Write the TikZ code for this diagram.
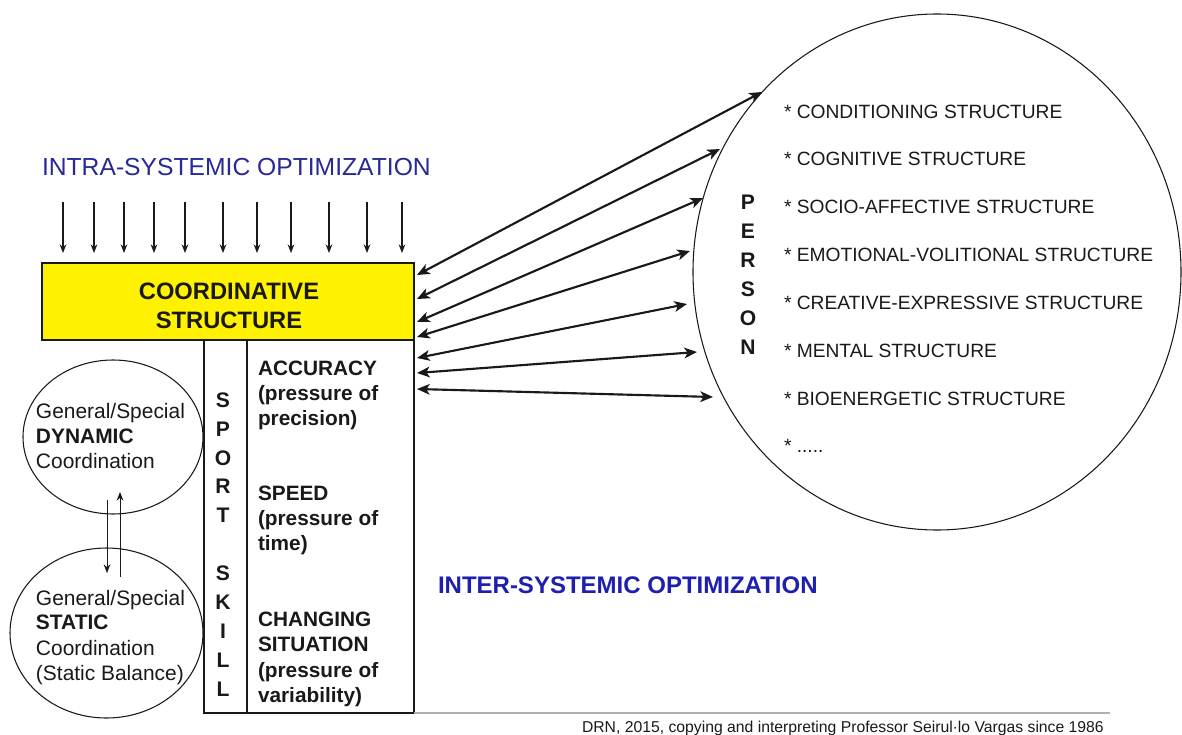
\documentclass[tikz,border=0pt]{standalone}
\usepackage{fontspec}
\setmainfont{Liberation Sans}
\usetikzlibrary{arrows.meta,shapes.geometric}
\definecolor{titleblue}{RGB}{40,40,150}
\definecolor{interblue}{RGB}{30,30,175}
\definecolor{ink}{RGB}{25,25,25}
\definecolor{rulegray}{RGB}{175,175,175}
\begin{document}
\begin{tikzpicture}[x=0.75pt,y=-0.75pt,
  every node/.style={inner sep=0pt, outer sep=0pt},
  txt/.style={anchor=base west, text=ink, font=\fontsize{15.7}{18}\selectfont},
  txtb/.style={anchor=base west, text=ink, font=\fontsize{15.6}{18}\selectfont\bfseries},
  item/.style={anchor=base west, text=ink, font=\fontsize{14.4}{17}\selectfont},
  letters/.style={align=center, text=ink, font=\fontsize{15.8}{21.7}\selectfont\bfseries},
  coordtxt/.style={anchor=base, text=ink, font=\fontsize{17.8}{21}\selectfont\bfseries},
  thinarrow/.style={-{Stealth[length=6.5pt,width=5pt]}, line width=0.8pt, draw=ink},
  dblarrow/.style={{Stealth[length=9.5pt,width=8pt,inset=2.5pt]}-{Stealth[length=9.5pt,width=8pt,inset=2.5pt]}, line width=1.6pt, draw=ink},
  outline/.style={draw=ink, line width=0.8pt},
  boxline/.style={draw=ink, line width=1pt},
]
\useasboundingbox (0,0) rectangle (1182,735);

% titles
\node[anchor=base west, text=titleblue, font=\fontsize{18.5}{22}\selectfont] (intra) at (42,175) {INTRA-SYSTEMIC OPTIMIZATION};
\node[anchor=base west, text=interblue, font=\fontsize{18}{22}\selectfont\bfseries] (inter) at (438,593) {INTER-SYSTEMIC OPTIMIZATION};

% downward arrows
\foreach \x [count=\i] in {63,94,124,154,185,223,257,291,329,367,402} {
  \coordinate (ds\i) at (\x,202);
  \coordinate (de\i) at (\x,253);
  \draw[thinarrow] (ds\i) -- (de\i);
}

% sport skill box
\node[boxline, minimum width=32.25pt, minimum height=279.75pt] (sportcol) at (225.5,526.5) {};
\node[boxline, minimum width=125.25pt, minimum height=279.75pt] (prescol) at (330.5,526.5) {};

% coordinative structure box
\node[outline, fill=yellow, minimum width=279pt, minimum height=57.75pt] (coord) at (228,301.5) {};
\node[coordtxt] (coordA) at (229,299) {COORDINATIVE};
\node[coordtxt] (coordB) at (229,328) {STRUCTURE};

% vertical words
\node[letters] (sportskill) at (223,544.5) {S\\P\\O\\R\\T\\[21.7pt]S\\K\\I\\L\\L};
\node[letters] (personword) at (748,274.5) {P\\E\\R\\S\\O\\N};

% pressure texts
\node[txtb] (acc1) at (258,375) {ACCURACY};
\node[txtb] (acc2) at (258,400) {(pressure of};
\node[txtb] (acc3) at (258,425.5) {precision)};
\node[txtb] (spd1) at (258,500.5) {SPEED};
\node[txtb] (spd2) at (258,525.7) {(pressure of};
\node[txtb] (spd3) at (258,550.7) {time)};
\node[txtb] (chg1) at (258,626.5) {CHANGING};
\node[txtb] (chg2) at (258,651.7) {SITUATION};
\node[txtb] (chg3) at (258,677) {(pressure of};
\node[txtb] (chg4) at (258,702) {variability)};

% coordination ellipses
\node[ellipse, outline, minimum width=135pt, minimum height=115.5pt] (dyn) at (113,437) {};
\node[ellipse, outline, minimum width=144.75pt, minimum height=127.5pt] (stat) at (106.5,633) {};
\node[txt] (dyn1) at (36,418) {General/Special};
\node[txt, font=\fontsize{15.7}{18}\selectfont\bfseries] (dyn2) at (36,443) {DYNAMIC};
\node[txt] (dyn3) at (36,468) {Coordination};
\node[txt] (st1) at (36,605) {General/Special};
\node[txt, font=\fontsize{15.7}{18}\selectfont\bfseries] (st2) at (36,629.5) {STATIC};
\node[txt] (st3) at (36,655) {Coordination};
\node[txt] (st4) at (36,680) {(Static Balance)};

\coordinate (v1s) at (107,500); \coordinate (v1e) at (107,573);
\coordinate (v2s) at (120,577); \coordinate (v2e) at (120,492);
\draw[thinarrow, line width=0.7pt] (v1s) -- (v1e);
\draw[thinarrow, line width=0.7pt] (v2s) -- (v2e);

% person
\node[ellipse, outline, minimum width=366pt, minimum height=387pt] (person) at (937,272) {};
\node[item] (p1) at (784,118.5) {* CONDITIONING STRUCTURE};
\node[item] (p2) at (784,166) {* COGNITIVE STRUCTURE};
\node[item] (p3) at (784,213.5) {* SOCIO-AFFECTIVE STRUCTURE};
\node[item] (p4) at (784,261) {* EMOTIONAL-VOLITIONAL STRUCTURE};
\node[item] (p5) at (784,309) {* CREATIVE-EXPRESSIVE STRUCTURE};
\node[item] (p6) at (784,357) {* MENTAL STRUCTURE};
\node[item] (p7) at (784,405) {* BIOENERGETIC STRUCTURE};
\node[item] (p8) at (784,452) {* .....};

% double arrows
\foreach \ly/\rx/\ry [count=\i] in {275/762/92, 299/720/149, 322/703/198, 337/690/251, 358/687/304, 373/697/352, 389/713/397} {
  \coordinate (L\i) at (417,\ly);
  \coordinate (R\i) at (\rx,\ry);
  \draw[dblarrow] (L\i) -- (R\i);
}

% footer
\coordinate (f1) at (414,713);
\coordinate (f2) at (1110,713);
\draw[rulegray, line width=1.1pt] (f1) -- (f2);
\node[anchor=base west, text=ink, font=\fontsize{11.8}{14}\selectfont] (footer) at (582,732) {DRN, 2015, copying and interpreting Professor Seirul·lo Vargas since 1986};
\end{tikzpicture}
\end{document}
